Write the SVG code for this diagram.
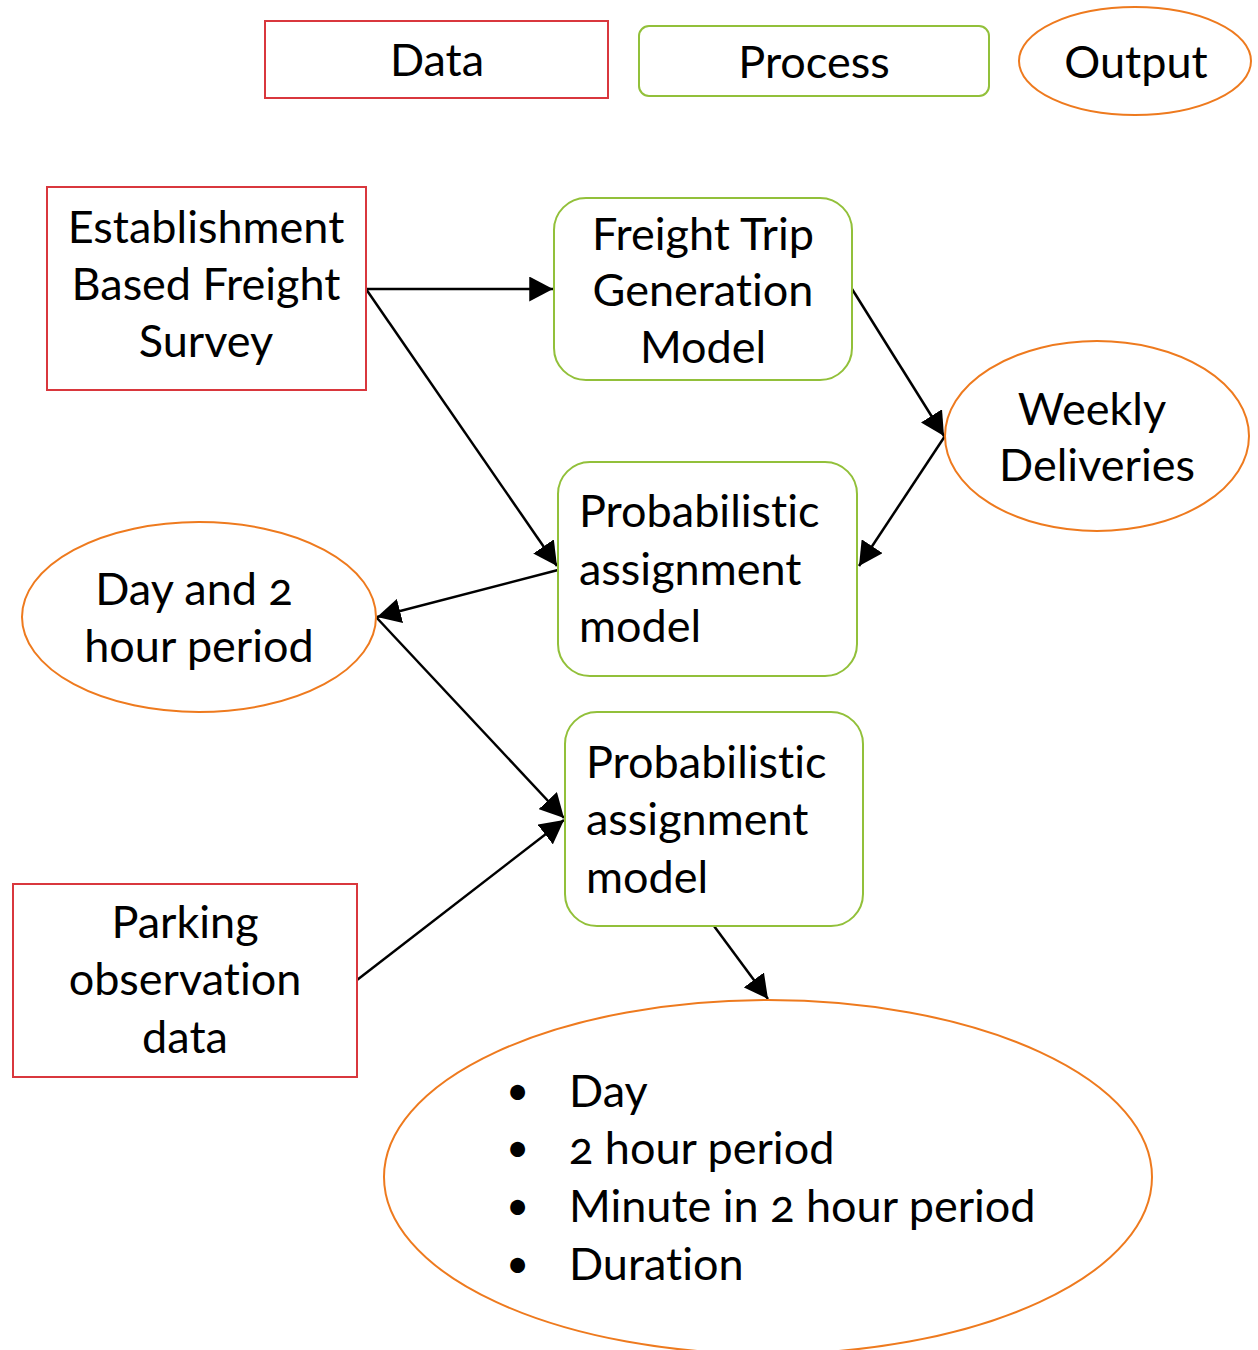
<svg xmlns="http://www.w3.org/2000/svg" width="1258" height="1350" viewBox="0 0 1258 1350">
  <style>
    text { font-family: Lato, "Open Sans", "Noto Sans", sans-serif; font-size: 45px; fill: #000; font-variant-numeric: oldstyle-nums; font-variant-ligatures: none; }
    .c { text-anchor: middle; }
    .bullet { font-size: 40px; }
    .data { fill: #fff; stroke: #d9373d; stroke-width: 2; }
    .proc { fill: #fff; stroke: #92c03a; stroke-width: 2; }
    .out { fill: #fff; stroke: #ee7a1e; stroke-width: 2; }
    .edge { fill: none; stroke: #000; stroke-width: 2.5; marker-end: url(#arrow); }
  </style>
  <defs>
    <marker id="arrow" markerWidth="9.5" markerHeight="10" refX="9.5" refY="5" orient="auto" markerUnits="strokeWidth">
      <path d="M0,0 L9.5,5 L0,10 Z" fill="#000"/>
    </marker>
  </defs>

  <rect x="0" y="0" width="1258" height="1350" fill="#fff"/>

  <!-- legend -->
  <g id="legend-data">
    <rect class="data" x="265" y="21" width="343" height="77"/>
    <text class="c" x="437" y="76">Data</text>
  </g>
  <g id="legend-process">
    <rect class="proc" x="639" y="26" width="350" height="70" rx="10"/>
    <text class="c" x="814" y="78">Process</text>
  </g>
  <g id="legend-output">
    <ellipse class="out" cx="1135" cy="61" rx="116" ry="54"/>
    <text class="c" x="1136" y="78">Output</text>
  </g>

  <!-- connectors -->
  <g id="connectors">
    <line class="edge" x1="366" y1="289" x2="553" y2="289"/>
    <line class="edge" x1="366" y1="289" x2="557" y2="566"/>
    <line class="edge" x1="852" y1="289" x2="944" y2="436"/>
    <line class="edge" x1="945" y1="436" x2="859" y2="566"/>
    <line class="edge" x1="558" y1="570" x2="377" y2="617"/>
    <line class="edge" x1="376" y1="617" x2="564" y2="818"/>
    <line class="edge" x1="357" y1="980" x2="564" y2="820"/>
    <line class="edge" x1="714" y1="926" x2="768" y2="999"/>
  </g>

  <!-- nodes -->
  <g id="survey">
    <rect class="data" x="47" y="187" width="319" height="203"/>
    <text class="c" x="206" y="243">Establishment</text>
    <text class="c" x="206" y="300">Based Freight</text>
    <text class="c" x="206" y="357">Survey</text>
  </g>
  <g id="trip-generation">
    <rect class="proc" x="554" y="198" width="298" height="182" rx="32"/>
    <text class="c" x="703" y="250">Freight Trip</text>
    <text class="c" x="703" y="306">Generation</text>
    <text class="c" x="703" y="363">Model</text>
  </g>
  <g id="weekly-deliveries">
    <ellipse class="out" cx="1097" cy="436" rx="152" ry="95"/>
    <text class="c" x="1092" y="425">Weekly</text>
    <text class="c" x="1097" y="481">Deliveries</text>
  </g>
  <g id="assignment-1">
    <rect class="proc" x="558" y="462" width="299" height="214" rx="32"/>
    <text x="579" y="527">Probabilistic</text>
    <text x="579" y="585">assignment</text>
    <text x="579" y="642">model</text>
  </g>
  <g id="day-period">
    <ellipse class="out" cx="199" cy="617" rx="177" ry="95"/>
    <text class="c" x="194" y="605">Day and 2</text>
    <text class="c" x="199" y="662">hour period</text>
  </g>
  <g id="assignment-2">
    <rect class="proc" x="565" y="712" width="298" height="214" rx="32"/>
    <text x="586" y="778">Probabilistic</text>
    <text x="586" y="835">assignment</text>
    <text x="586" y="893">model</text>
  </g>
  <g id="parking">
    <rect class="data" x="13" y="884" width="344" height="193"/>
    <text class="c" x="185" y="938">Parking</text>
    <text class="c" x="185" y="995">observation</text>
    <text class="c" x="185" y="1053">data</text>
  </g>
  <g id="result">
    <ellipse class="out" cx="768" cy="1177" rx="384" ry="177"/>
    <text class="bullet" x="506" y="1105">•</text>
    <text x="569" y="1107">Day</text>
    <text class="bullet" x="506" y="1162">•</text>
    <text x="569" y="1164">2 hour period</text>
    <text class="bullet" x="506" y="1220">•</text>
    <text x="569" y="1222">Minute in 2 hour period</text>
    <text class="bullet" x="506" y="1278">•</text>
    <text x="569" y="1280">Duration</text>
  </g>
</svg>
